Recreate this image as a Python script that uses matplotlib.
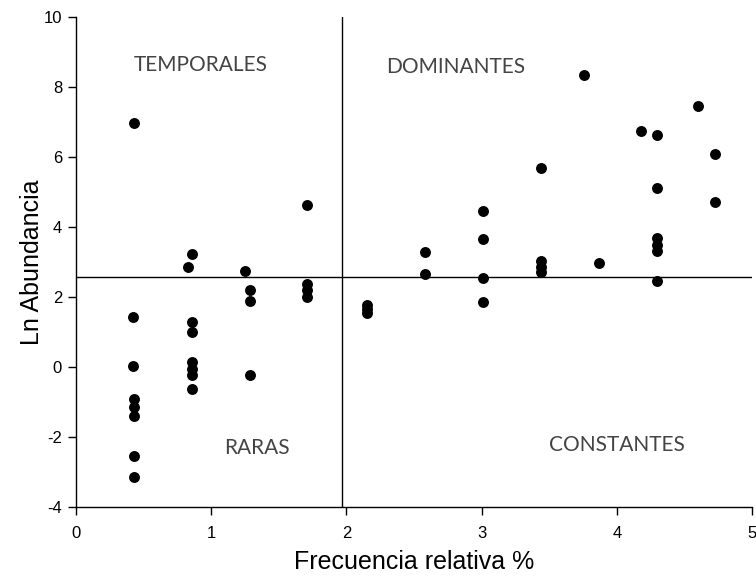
import matplotlib
matplotlib.use('Agg')
import matplotlib.pyplot as plt

plt.rcParams['axes.unicode_minus'] = False

# relative frequency (%) and ln abundance per species
frecuencia = [0.43, 0.42, 0.42, 0.43, 0.43, 0.43, 0.43, 0.43,
              0.86, 0.83, 0.86, 0.86, 0.86, 0.86, 0.86, 0.86,
              1.25, 1.29, 1.29, 1.29,
              1.71, 1.71, 1.71, 1.71,
              2.15, 2.15, 2.15,
              2.58, 2.58,
              3.01, 3.01, 3.01, 3.01,
              3.44, 3.44, 3.44, 3.44,
              3.76, 3.87,
              4.18, 4.30, 4.30, 4.30, 4.30, 4.30, 4.30,
              4.60, 4.73, 4.73]
ln_abundancia = [6.97, 1.42, 0.03, -0.92, -1.13, -1.40, -2.53, -3.13,
                 3.23, 2.87, 1.29, 0.99, 0.14, -0.06, -0.24, -0.63,
                 2.74, 2.21, 1.90, -0.22,
                 4.62, 2.38, 2.19, 2.00,
                 1.76, 1.65, 1.54,
                 3.30, 2.67,
                 4.45, 3.65, 2.55, 1.86,
                 5.70, 3.02, 2.86, 2.72,
                 8.35, 2.97,
                 6.75, 6.62, 5.12, 3.68, 3.48, 3.32, 2.47,
                 7.45, 6.10, 4.72]

# quadrant dividers
corte_x = 1.97
corte_y = 2.58

cuadrantes = ['TEMPORALES', 'DOMINANTES', 'RARAS', 'CONSTANTES']
pos_cuadrantes = [(0.92, 8.63), (2.81, 8.57), (1.34, -2.31), (4.0, -2.23)]

fig = plt.figure(figsize=(7.56, 5.80), dpi=100)
ax = fig.add_axes([76 / 756, 73 / 580, 676 / 756, 490 / 580])

ax.scatter(frecuencia, ln_abundancia, s=62, color='black', zorder=3, linewidths=0)

ax.axvline(corte_x, color='black', lw=1.0)
ax.axhline(corte_y, color='black', lw=1.0)

for texto, (xt, yt) in zip(cuadrantes, pos_cuadrantes):
    ax.text(xt, yt, texto, ha='center', va='center', fontsize=15,
            family='Lato', fontweight='normal', color='#444444')

ax.set_xlim(0, 5)
ax.set_ylim(-4, 10)
ax.set_xticks(range(0, 6))
ax.set_yticks(range(-4, 11, 2))

# only left and bottom axes, ticks pointing outwards
ax.spines['top'].set_visible(False)
ax.spines['right'].set_visible(False)
for side in ['left', 'bottom']:
    ax.spines[side].set_linewidth(1.0)
ax.tick_params(direction='out', length=6, width=1.0, labelsize=12, pad=4)
ax.tick_params(axis='x', pad=8)
for lab in ax.get_xticklabels() + ax.get_yticklabels():
    lab.set_family('Liberation Sans')

ax.set_xlabel('Frecuencia relativa %', fontsize=18, family='Liberation Sans', labelpad=6)
ax.set_ylabel('Ln Abundancia', fontsize=18, family='Liberation Sans', labelpad=0)

fig.savefig('out.png', dpi=100)
